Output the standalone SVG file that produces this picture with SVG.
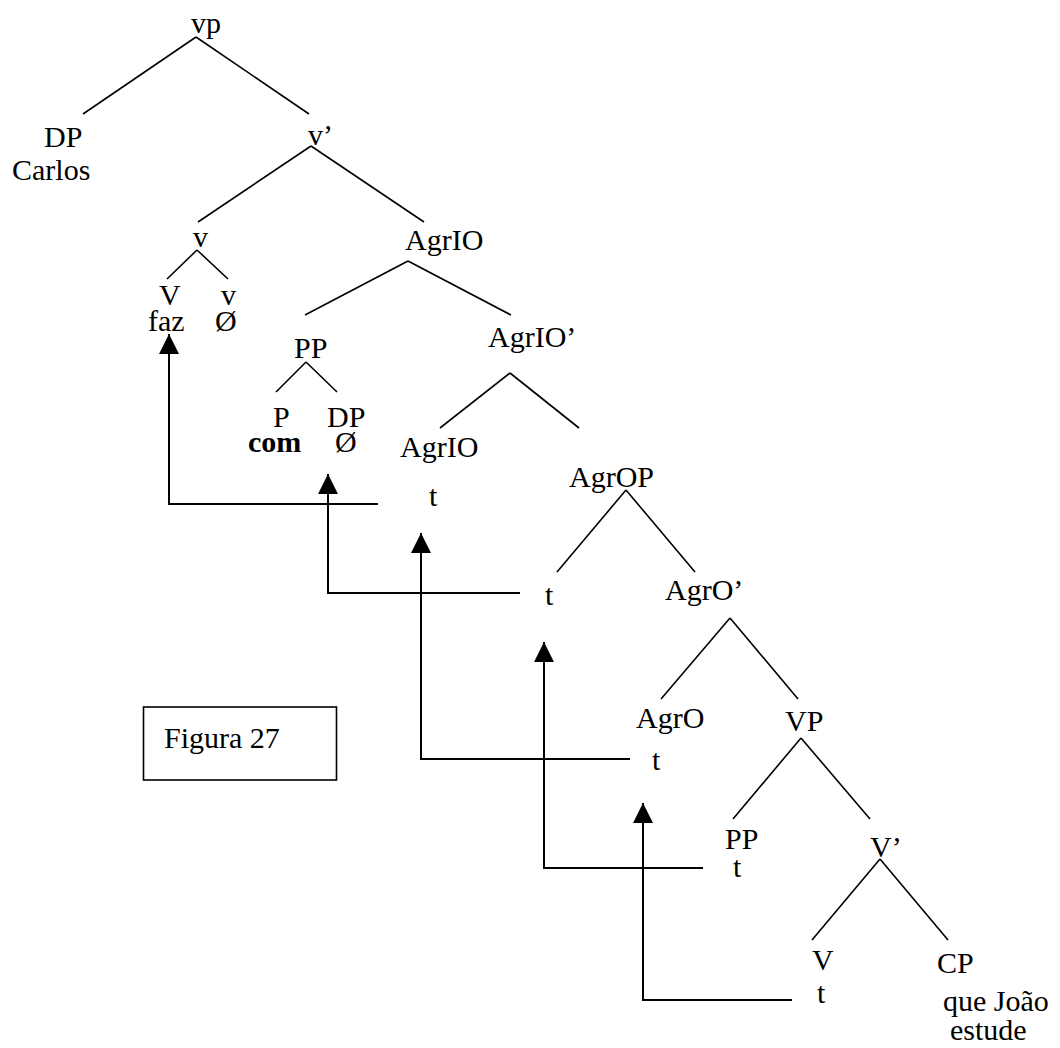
<svg xmlns="http://www.w3.org/2000/svg" width="1060" height="1048" viewBox="0 0 1060 1048">
<style>
text{font-family:"Liberation Serif","Times New Roman",serif;font-size:30px;fill:#000}
.b{font-weight:bold}
.e{stroke:#000;stroke-width:1.6;fill:none}
.m{stroke:#000;stroke-width:2;fill:none;marker-end:url(#ah)}
</style>
<defs>
<marker id="ah" markerUnits="userSpaceOnUse" markerWidth="20" markerHeight="20" refX="20" refY="10" orient="auto" viewBox="0 0 20 20">
<path d="M0,0 L20,10 L0,20 z" fill="#000"/>
</marker>
</defs>
<rect width="1060" height="1048" fill="#fff"/>
<g id="connectors">
<line class="e" x1="196" y1="37" x2="83" y2="114"/>
<line class="e" x1="196" y1="37" x2="309" y2="114"/>
<line class="e" x1="311" y1="146" x2="198" y2="222"/>
<line class="e" x1="311" y1="146" x2="424" y2="222"/>
<line class="e" x1="197" y1="250" x2="167" y2="279"/>
<line class="e" x1="197" y1="250" x2="228" y2="279"/>
<line class="e" x1="408" y1="261" x2="305" y2="315"/>
<line class="e" x1="408" y1="261" x2="511" y2="315"/>
<line class="e" x1="306" y1="362" x2="276" y2="392"/>
<line class="e" x1="306" y1="362" x2="337" y2="392"/>
<line class="e" x1="510" y1="373" x2="440" y2="428"/>
<line class="e" x1="510" y1="373" x2="579" y2="428"/>
<line class="e" x1="626" y1="490" x2="557" y2="572"/>
<line class="e" x1="626" y1="490" x2="695" y2="572"/>
<line class="e" x1="730" y1="618" x2="661" y2="699"/>
<line class="e" x1="730" y1="618" x2="798" y2="699"/>
<line class="e" x1="801" y1="738" x2="733" y2="819"/>
<line class="e" x1="801" y1="738" x2="870" y2="819"/>
<line class="e" x1="880" y1="859" x2="812" y2="940"/>
<line class="e" x1="880" y1="859" x2="948" y2="940"/>
<path class="m" d="M378,504 H169 V334"/>
<path class="m" d="M520,593 H328 V474"/>
<path class="m" d="M630,759 H421 V533"/>
<path class="m" d="M703,868 H544 V642"/>
<path class="m" d="M792,1000 H643 V803"/>
</g>
<g id="n-vp"><text x="191" y="33">vp</text></g>
<g id="n-dp-carlos"><text x="44" y="147">DP</text><text x="12" y="180">Carlos</text></g>
<g id="n-vbar"><text x="308" y="145">v’</text></g>
<g id="n-v"><text x="193" y="247">v</text></g>
<g id="n-agrio"><text x="405" y="250">AgrIO</text></g>
<g id="n-V-faz"><text x="159" y="305">V</text><text x="148" y="331">faz</text></g>
<g id="n-v-null"><text x="221" y="305">v</text><text x="215" y="331">Ø</text></g>
<g id="n-pp"><text x="294" y="358">PP</text></g>
<g id="n-agriobar"><text x="488" y="347">AgrIO’</text></g>
<g id="n-p-com"><text x="273" y="427">P</text><text class="b" x="248" y="452">com</text></g>
<g id="n-dp-null"><text x="327" y="427">DP</text><text x="335" y="452">Ø</text></g>
<g id="n-agrio-t"><text x="400" y="457">AgrIO</text><text x="429" y="506">t</text></g>
<g id="n-agrop"><text x="569" y="487">AgrOP</text></g>
<g id="n-t-spec"><text x="545" y="605">t</text></g>
<g id="n-agrobar"><text x="665" y="600">AgrO’</text></g>
<g id="n-agro-t"><text x="636" y="728">AgrO</text><text x="652" y="770">t</text></g>
<g id="n-VP"><text x="785" y="731">VP</text></g>
<g id="n-pp-t"><text x="725" y="849">PP</text><text x="733" y="877">t</text></g>
<g id="n-Vbar"><text x="870" y="857">V’</text></g>
<g id="n-V-t"><text x="812" y="970">V</text><text x="817" y="1003">t</text></g>
<g id="n-cp"><text x="937" y="973">CP</text><text x="943" y="1011">que João</text><text x="950" y="1040">estude</text></g>
<g id="figura"><rect x="143.5" y="707" width="193" height="73" fill="none" stroke="#000" stroke-width="1.6"/><text x="164" y="748">Figura 27</text></g>
</svg>
